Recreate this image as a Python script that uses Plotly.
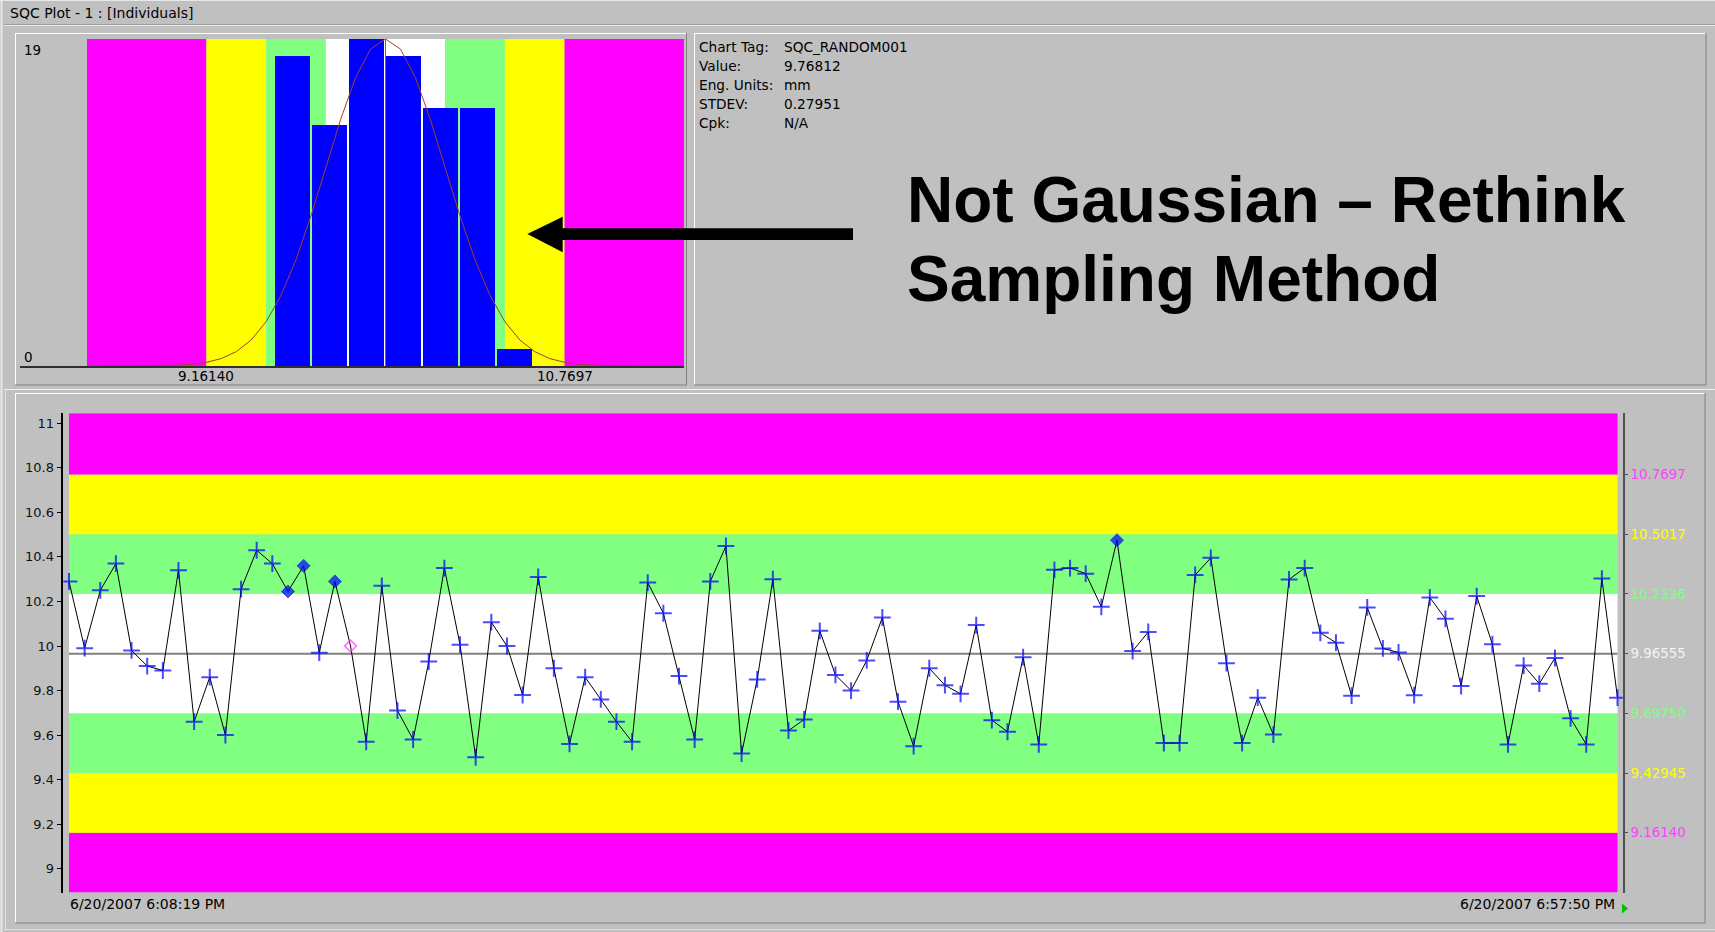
import plotly.graph_objects as go

W, H = 1715, 932

# ---------------- text content ----------------
title_text = "SQC Plot - 1 : [Individuals]"
info_labels = ["Chart Tag:", "Value:", "Eng. Units:", "STDEV:", "Cpk:"]
info_values = ["SQC_RANDOM001", "9.76812", "mm", "0.27951", "N/A"]
message_lines = ["Not Gaussian \u2013 Rethink", "Sampling Method"]
time_labels = ["6/20/2007 6:08:19 PM", "6/20/2007 6:57:50 PM"]

# ---------------- limits ----------------
center = 9.96555
sigma = 0.26805
limit_values = [9.16140, 9.42945, 9.69750, 9.96555, 10.2336, 10.5017, 10.7697]
limit_labels = ["9.16140", "9.42945", "9.69750", "9.96555", "10.2336", "10.5017", "10.7697"]
limit_label_colors = ["#FF40FF", "#FFFF00", "#80FF80", "#F4F4F4", "#80FF80", "#FFFF00", "#FF40FF"]
zone_colors = ["#FF00FF", "#FFFF00", "#80FF80", "#FFFFFF", "#FFFFFF", "#80FF80", "#FFFF00", "#FF00FF"]

# ---------------- histogram ----------------
hist_bin_start = 9.465
hist_bin_width = 0.1661
hist_counts = [18, 14, 19, 18, 15, 15, 1]
hist_max = 19

# ---------------- individuals ----------------
values = [
    10.29, 9.99, 10.25, 10.37, 9.98, 9.91, 9.89, 10.34, 9.66, 9.86,
    9.60, 10.255, 10.43, 10.37, 10.245, 10.36, 9.97, 10.29, 10.00, 9.57,
    10.27, 9.71, 9.58, 9.93, 10.35, 10.006, 9.50, 10.107, 10.00, 9.78,
    10.31, 9.90, 9.56, 9.86, 9.76, 9.66, 9.57, 10.285, 10.147, 9.865,
    9.58, 10.29, 10.449, 9.517, 9.85, 10.30, 9.62, 9.67, 10.068, 9.87,
    9.80, 9.935, 10.128, 9.75, 9.55, 9.90, 9.824, 9.785, 10.094, 9.667,
    9.615, 9.95, 9.558, 10.342, 10.35, 10.325, 10.176, 10.475, 9.977, 10.063,
    9.564, 9.564, 10.319, 10.396, 9.923, 9.564, 9.768, 9.602, 10.299, 10.35,
    10.059, 10.015, 9.777, 10.173, 9.989, 9.971, 9.779, 10.218, 10.122, 9.82,
    10.224, 10.008, 9.558, 9.912, 9.831, 9.946, 9.675, 9.558, 10.303, 9.76812,
]
flag_filled = [14, 15, 17, 67]   # rule-violation points (filled diamonds)
flag_hollow = [18]               # hollow magenta diamond
y_ticks = [9, 9.2, 9.4, 9.6, 9.8, 10, 10.2, 10.4, 10.6, 10.8, 11]
y_tick_labels = ["9", "9.2", "9.4", "9.6", "9.8", "10", "10.2", "10.4", "10.6", "10.8", "11"]

FONT = "DejaVu Sans"
BG = "#C0C0C0"


def px(x):
    return x / W


def py(y):
    return 1 - y / H


fig = go.Figure()

# ---- histogram traces ----
centers_hist = [hist_bin_start + hist_bin_width * (i + 0.5) for i in range(len(hist_counts))]
fig.add_trace(go.Bar(
    x=centers_hist, y=hist_counts, width=[hist_bin_width * 0.965] * len(hist_counts),
    marker=dict(color="#0000FF", line=dict(width=0)), xaxis="x", yaxis="y",
    hoverinfo="skip", showlegend=False))

n_curve = 41
curve_x = [center - 5 * sigma + i * (10 * sigma / (n_curve - 1)) for i in range(n_curve)]
curve_y = [hist_max * (2.718281828 ** (-0.5 * ((cx - center) / sigma) ** 2)) for cx in curve_x]
fig.add_trace(go.Scatter(x=curve_x, y=curve_y, mode="lines",
                         line=dict(color="#A04030", width=1), xaxis="x", yaxis="y",
                         hoverinfo="skip", showlegend=False))
fig.add_trace(go.Scatter(x=[center, center], y=[0, hist_max], mode="lines",
                         line=dict(color="#A05040", width=1), xaxis="x", yaxis="y",
                         hoverinfo="skip", showlegend=False))

# ---- individuals trace ----
idx = list(range(len(values)))
symbols, colors, sizes, lwidths = [], [], [], []
for i in idx:
    if i in flag_filled:
        symbols.append("diamond"); colors.append("#0000FF"); sizes.append(10); lwidths.append(1)
    elif i in flag_hollow:
        symbols.append("diamond-open"); colors.append("#FF30FF"); sizes.append(9); lwidths.append(1.6)
    else:
        symbols.append("cross-thin"); colors.append("#0000FF"); sizes.append(12); lwidths.append(2)

fig.add_trace(go.Scatter(
    x=idx, y=values, mode="lines+markers", xaxis="x2", yaxis="y2",
    line=dict(color="#000000", width=1),
    marker=dict(symbol=symbols, color=colors, size=sizes,
                line=dict(color=colors, width=lwidths)),
    hoverinfo="skip", showlegend=False))
# invisible trace for right axis
fig.add_trace(go.Scatter(x=[0], y=[center], xaxis="x2", yaxis="y3", mode="markers",
                         marker=dict(opacity=0), hoverinfo="skip", showlegend=False))

shapes = []

# ---- zones: histogram (vertical) ----
h_lo, h_hi = center - 5 * sigma, center + 5 * sigma
bounds_h = [h_lo] + limit_values + [h_hi]
for k in range(len(bounds_h) - 1):
    shapes.append(dict(type="rect", xref="x", yref="y", x0=bounds_h[k], x1=bounds_h[k + 1],
                       y0=0, y1=hist_max, fillcolor=zone_colors[k], line=dict(width=0), layer="below"))

# ---- zones: individuals (horizontal) ----
c_lo, c_hi = 8.893, 11.045
bounds_c = [c_lo] + limit_values + [c_hi]
for k in range(len(bounds_c) - 1):
    shapes.append(dict(type="rect", xref="x2", yref="y2", x0=idx[0], x1=idx[-1],
                       y0=bounds_c[k], y1=bounds_c[k + 1], fillcolor=zone_colors[k],
                       line=dict(width=0), layer="below"))
shapes.append(dict(type="line", xref="x2", yref="y2", x0=idx[0], x1=idx[-1], y0=center, y1=center,
                   line=dict(color="#808080", width=2), layer="below"))


# ---- window chrome ----
def hline(x0, x1, y, color, w=1):
    shapes.append(dict(type="line", xref="paper", yref="paper", x0=px(x0), x1=px(x1),
                       y0=py(y), y1=py(y), line=dict(color=color, width=w)))


def vline(x, y0, y1, color, w=1):
    shapes.append(dict(type="line", xref="paper", yref="paper", x0=px(x), x1=px(x),
                       y0=py(y0), y1=py(y1), line=dict(color=color, width=w)))


hline(0, W, 0.5, "#E8E8E8", 1)
vline(1.5, 0, H, "#E8E8E8", 2)
hline(4, W, 25.5, "#E8E8E8", 1)
hline(4, W, 24.5, "#A0A0A0", 1)
# histogram panel
hline(15, 687, 33.5, "#FFFFFF"); vline(15.5, 33, 385, "#FFFFFF")
hline(15, 687, 385, "#808080"); vline(686.5, 33, 385, "#808080")
# info panel
hline(694, 1706, 33.5, "#FFFFFF"); vline(694.5, 33, 385, "#FFFFFF")
hline(694, 1706, 385, "#808080"); vline(1706, 33, 385, "#808080")
# separator
hline(4, W, 389.5, "#F0F0F0")
# bottom panel
hline(15, 1705, 393.5, "#FFFFFF"); vline(15.5, 393, 923, "#FFFFFF")
hline(15, 1705, 923, "#808080"); vline(1705, 393, 923, "#808080")
vline(5.5, 390, 930, "#E0E0E0"); hline(4, W, 929.5, "#E0E0E0")


# ---- arrow ----
def path_from(points):
    s = "M " + " L ".join(f"{px(x):.6f},{py(y):.6f}" for x, y in points) + " Z"
    return s


shapes.append(dict(type="path", xref="paper", yref="paper",
                   path=path_from([(560, 228.3), (853, 228.3), (853, 240), (560, 240)]),
                   fillcolor="#000000", line=dict(width=0)))
shapes.append(dict(type="path", xref="paper", yref="paper",
                   path=path_from([(527.3, 234), (562.7, 216.7), (562.7, 252.3)]),
                   fillcolor="#000000", line=dict(width=0)))
# green play marker
shapes.append(dict(type="path", xref="paper", yref="paper",
                   path=path_from([(1622, 903.5), (1628, 908.5), (1622, 913.5)]),
                   fillcolor="#00C000", line=dict(width=0)))

annotations = []


def text(x, y, t, size=13, anchor="left", color="#000000", family=FONT, yanchor="middle"):
    annotations.append(dict(x=px(x), y=py(y), xref="paper", yref="paper", text=t, showarrow=False,
                            xanchor=anchor, yanchor=yanchor,
                            font=dict(family=family, size=size, color=color)))


text(8, 13, title_text, 14)
for i, (lab, val) in enumerate(zip(info_labels, info_values)):
    yy = 47.3 + i * 18.85
    text(697, yy, lab, 13.7)
    text(782, yy, val, 13.7)
text(905, 200.3, "<b>" + message_lines[0] + "</b>", 64, family="Liberation Sans")
text(905, 278.5, "<b>" + message_lines[1] + "</b>", 64, family="Liberation Sans")
text(22, 50, str(hist_max), 13.5)
text(22, 357, "0", 13.5)
text(68, 904, time_labels[0], 14)
text(1617, 904, time_labels[1], 14, anchor="right")
# histogram x labels at the outer limits
for v, lab in [(limit_values[0], limit_labels[0]), (limit_values[-1], limit_labels[-1])]:
    annotations.append(dict(x=v, y=py(376), xref="x", yref="paper", text=lab, showarrow=False,
                            xanchor="center", yanchor="middle",
                            font=dict(family=FONT, size=13.5, color="#000000")))

fig.update_layout(
    width=W, height=H, margin=dict(l=0, r=0, t=0, b=0),
    paper_bgcolor=BG, plot_bgcolor="rgba(0,0,0,0)",
    font=dict(family=FONT, size=13, color="#000000"),
    bargap=0, showlegend=False,
    shapes=shapes, annotations=annotations,
    xaxis=dict(domain=[px(20), px(684)], range=[8.3245, 11.3058], anchor="y",
               showgrid=False, zeroline=False, showline=True, linecolor="#303030", linewidth=1.5,
               showticklabels=False, ticks="", fixedrange=True),
    yaxis=dict(domain=[py(366), py(39)], range=[0, hist_max], anchor="x",
               showgrid=False, zeroline=False, showline=False, showticklabels=False, fixedrange=True),
    xaxis2=dict(domain=[px(63.3), px(1622.7)], range=[-0.364, 99.332], anchor="y2",
                showgrid=False, zeroline=False, showline=False, showticklabels=False, ticks="",
                fixedrange=True),
    yaxis2=dict(domain=[py(892.5), py(413.3)], range=[c_lo, c_hi], anchor="x2", side="left",
                showgrid=False, zeroline=False, showline=True, linecolor="#000000", linewidth=1.5,
                tickvals=y_ticks, ticktext=y_tick_labels, ticks="outside", ticklen=5,
                tickcolor="#000000", tickfont=dict(size=13, color="#111111"), fixedrange=True),
    yaxis3=dict(overlaying="y2", range=[c_lo, c_hi], anchor="x2", side="right",
                showgrid=False, zeroline=False, showline=True, linecolor="#505050", linewidth=2,
                tickvals=limit_values,
                ticktext=[f'<span style="color:{c}">{t}</span>' for t, c in zip(limit_labels, limit_label_colors)],
                ticks="outside", ticklen=3, tickcolor="#505050",
                tickfont=dict(size=13.4, color="#000000"), fixedrange=True),
)

fig.write_html("out.html", config={"displayModeBar": False},
               post_script="document.body.style.margin='0';document.body.style.overflow='hidden';")
